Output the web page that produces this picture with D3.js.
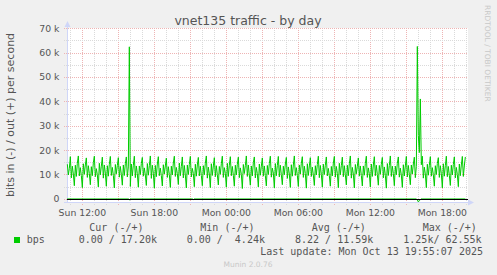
<!DOCTYPE html>
<meta charset="utf-8">
<style>
    body { margin: 0; background: #f0f0f0; }
    svg { display: block; font-family: "DejaVu Sans", sans-serif; }
    .tick { font-size: 9.3px; fill: #555; }
    .mono { font-family: "DejaVu Sans Mono", monospace; font-size: 10px; fill: #555; }
</style>
<body>
<script src="https://d3js.org/d3.v7.min.js"></script>
<script>
    // out (+) traffic in kbit/s, one sample per 5 minutes starting Sun 10:45
    var outK = [
        14.2, 9.8, 12.5, 17.3, 8.6, 13.4, 10.2, 5.4,
        13.8, 9.2, 14.6, 17.6, 9.4, 12.8, 9.6, 4.6,
        14.4, 10.1, 13.9, 16.8, 8.8, 13.6, 10.4, 5.8,
        13.2, 9.5, 14.8, 17.5, 9.1, 12.4, 9.9, 4.9,
        14.6, 9.9, 13.4, 17.1, 8.5, 13.9, 10.6, 5.2,
        13.6, 9.3, 14.2, 17.4, 9.6, 12.9, 9.7, 4.5,
        14.1, 10.3, 13.7, 16.9, 8.9, 13.3, 10.1, 5.6,
        13.9, 9.6, 14.4, 17.2, 9.0, 13.1, 62.4, 5.1,
        14.3, 9.4, 13.8, 17.5, 8.7, 13.5, 10.3, 4.8,
        13.5, 10.0, 14.5, 17.0, 9.3, 12.7, 9.8, 5.5,
        14.5, 9.7, 13.6, 17.6, 8.4, 13.8, 10.5, 4.4,
        13.7, 9.1, 14.3, 17.3, 9.5, 12.6, 9.5, 5.3,
        14.0, 10.2, 13.5, 16.7, 8.8, 13.2, 10.0, 4.7,
        13.4, 9.8, 14.7, 17.5, 9.2, 12.9, 10.3, 5.9,
        14.7, 9.5, 13.3, 17.2, 8.6, 13.7, 9.8, 4.5,
        13.9, 10.0, 14.1, 17.4, 9.0, 12.5, 10.4, 5.0,
        14.2, 9.3, 13.9, 17.0, 9.4, 13.4, 9.6, 5.4,
        13.6, 9.9, 14.6, 17.6, 8.5, 13.0, 10.2, 4.6,
        14.4, 9.6, 13.5, 16.9, 9.1, 13.6, 9.9, 5.7,
        13.3, 10.1, 14.4, 17.5, 8.8, 12.8, 10.5, 4.8,
        14.6, 9.2, 13.8, 17.3, 9.5, 13.3, 9.7, 5.2,
        13.8, 9.8, 14.2, 17.1, 8.7, 12.7, 10.1, 4.24,
        14.1, 10.4, 13.6, 17.6, 9.2, 13.9, 9.8, 5.6,
        13.5, 9.4, 14.8, 17.2, 8.6, 12.9, 10.3, 4.9,
        14.3, 9.7, 13.4, 16.8, 9.3, 13.5, 9.6, 5.3,
        13.7, 10.0, 14.5, 17.5, 8.9, 12.6, 10.6, 4.5,
        14.5, 9.5, 13.7, 17.4, 9.0, 13.8, 9.9, 5.8,
        13.4, 9.9, 14.3, 17.0, 8.4, 13.1, 10.2, 4.7,
        14.0, 9.3, 13.9, 17.6, 9.6, 12.8, 9.7, 5.1,
        13.9, 10.2, 14.6, 17.3, 8.8, 13.4, 10.4, 4.4,
        14.4, 9.6, 13.5, 16.9, 9.2, 13.0, 9.8, 5.5,
        13.6, 9.8, 14.1, 17.5, 8.7, 13.7, 10.1, 4.8,
        14.2, 10.0, 13.8, 17.2, 9.4, 12.5, 9.5, 5.2,
        13.3, 9.4, 14.7, 17.4, 8.9, 13.3, 10.5, 4.6,
        14.6, 9.9, 13.6, 17.1, 9.1, 13.6, 9.9, 5.7,
        13.8, 9.5, 14.4, 17.6, 8.5, 12.9, 10.2, 4.5,
        14.1, 10.3, 13.4, 16.8, 9.3, 13.5, 9.6, 5.3,
        13.5, 9.7, 14.5, 17.5, 8.8, 12.7, 10.3, 4.9,
        14.3, 9.2, 13.9, 17.3, 9.5, 13.8, 10.0, 5.6,
        13.7, 10.1, 14.2, 17.0, 8.6, 13.1, 9.7, 4.4,
        14.5, 9.6, 13.7, 17.6, 9.2, 13.4, 10.4, 5.4,
        13.4, 9.9, 14.6, 17.2, 8.9, 12.6, 9.8, 4.7,
        14.0, 9.4, 13.5, 17.4, 9.0, 13.7, 10.1, 5.8,
        13.9, 10.2, 14.3, 17.1, 8.7, 13.2, 62.55, 26.0,
        19.0, 41.0, 14.0, 17.5, 8.5, 13.0, 10.2, 4.6,
        14.2, 9.7, 13.8, 17.3, 9.3, 12.8, 9.9, 5.2,
        13.6, 10.0, 14.5, 16.9, 8.8, 13.6, 10.3, 4.5,
        14.4, 9.3, 13.6, 17.5, 9.1, 13.3, 9.7, 5.5,
        13.8, 9.8, 14.1, 17.2, 8.6, 12.9, 10.0, 5.0,
        14.3, 9.5, 13.9, 17.4, 9.2, 13.5, 17.2
    ];
    // in (-) traffic is zero except these samples [index, kbit/s]
    var inBumps = [[62, 0.4], [126, 0.3], [350, 0.5], [351, 1.25], [352, 0.8], [353, 0.3]];

    var yTicks = [0, 10000, 20000, 30000, 40000, 50000, 60000, 70000];
    var yMinor = [5000, 15000, 25000, 35000, 45000, 55000, 65000];
    var legendHeads = ["Cur (-/+)", "Min (-/+)", "Avg (-/+)", "Max (-/+)"];
    var legendVals = ["0.00 / 17.20k", "0.00 /  4.24k", "8.22 / 11.59k", "1.25k/ 62.55k"];
    var lastUpdate = "Last update: Mon Oct 13 19:55:07 2025";

    var width = 497, height = 275;
    var t0 = new Date(2025, 9, 12, 10, 45);
    var step = 5 * 60 * 1000;

    var outData = outK.map(function(v, i) { return { t: new Date(+t0 + i * step), v: v * 1000 }; });
    var inData = outK.map(function(v, i) { return { t: new Date(+t0 + i * step), v: 0 }; });
    inBumps.forEach(function(b) { inData[b[0]].v = -b[1] * 1000; });

    var x = d3.scaleTime()
        .domain([new Date(2025, 9, 12, 10, 43, 20), new Date(2025, 9, 13, 20, 3, 20)])
        .range([67, 467]);
    var y = d3.scaleLinear().domain([-1500, 70000]).range([202.5, 28.3]);

    var svg = d3.select("body").append("svg")
        .attr("width", width)
        .attr("height", height);

    svg.append("rect").attr("width", width).attr("height", height).attr("fill", "#f0f0f0");
    svg.append("rect").attr("x", 67).attr("y", 28).attr("width", 401).attr("height", 175).attr("fill", "#fff");

    var px = function(v) { return Math.round(v) + 0.5; };
    var majorColor = "#eeb4b4", minorColor = "#dadada";

    // vertical grid
    var hours = x.ticks(d3.timeHour.every(1));
    svg.append("g").selectAll("line").data(hours).enter().append("line")
        .attr("x1", function(d) { return px(x(d)); })
        .attr("x2", function(d) { return px(x(d)); })
        .attr("y1", 28).attr("y2", 206)
        .attr("stroke", function(d) { return d.getHours() % 3 == 0 ? majorColor : minorColor; })
        .attr("stroke-dasharray", "1,1")
        .attr("shape-rendering", "crispEdges");

    // horizontal grid
    svg.append("g").selectAll("line").data(yMinor).enter().append("line")
        .attr("x1", 64).attr("x2", 468)
        .attr("y1", function(d) { return px(y(d)); })
        .attr("y2", function(d) { return px(y(d)); })
        .attr("stroke", minorColor)
        .attr("stroke-dasharray", "1,1")
        .attr("shape-rendering", "crispEdges");
    svg.append("g").selectAll("line").data(yTicks).enter().append("line")
        .attr("x1", 64).attr("x2", 468)
        .attr("y1", function(d) { return px(y(d)); })
        .attr("y2", function(d) { return px(y(d)); })
        .attr("stroke", majorColor)
        .attr("stroke-dasharray", "1,1")
        .attr("shape-rendering", "crispEdges");

    // axes
    var axisColor = "#cfd6f8";
    svg.append("line").attr("x1", 67.5).attr("x2", 67.5).attr("y1", 24).attr("y2", 203)
        .attr("stroke", axisColor);
    svg.append("line").attr("x1", 64).attr("x2", 469).attr("y1", 202.5).attr("y2", 202.5)
        .attr("stroke", axisColor);
    svg.append("path").attr("d", "M64.5,27L67.5,21L70.5,27Z").attr("fill", axisColor);
    svg.append("path").attr("d", "M468,199.5L474,202.5L468,205.5Z").attr("fill", axisColor);

    var line = d3.line()
        .x(function(d) { return x(d.t); })
        .y(function(d) { return y(d.v); });

    svg.append("path").datum(inData)
        .attr("d", line)
        .attr("fill", "none")
        .attr("stroke", "#00cc00")
        .attr("stroke-width", 1);

    svg.append("line").attr("x1", 67).attr("x2", 468)
        .attr("y1", px(y(0))).attr("y2", px(y(0)))
        .attr("stroke", "#000")
        .attr("shape-rendering", "crispEdges");

    svg.append("path").datum(outData)
        .attr("d", line)
        .attr("fill", "none")
        .attr("stroke", "#00cc00")
        .attr("stroke-width", 1);

    // y tick labels
    svg.append("g").selectAll("text").data(yTicks).enter().append("text")
        .attr("class", "tick")
        .attr("x", 59.5)
        .attr("y", function(d) { return y(d) + 3.4; })
        .attr("text-anchor", "end")
        .text(function(d) { return d == 0 ? "0" : (d / 1000) + " k"; });

    // x tick labels
    var fmt = d3.timeFormat("%a %H:%M");
    svg.append("g").selectAll("text").data(x.ticks(d3.timeHour.every(6))).enter().append("text")
        .attr("class", "tick")
        .attr("x", function(d) { return x(d); })
        .attr("y", 216)
        .attr("text-anchor", "middle")
        .text(fmt);

    // title and labels
    svg.append("text").attr("x", 248).attr("y", 24.5)
        .attr("text-anchor", "middle")
        .attr("font-size", "12.5px").attr("fill", "#555")
        .text("vnet135 traffic - by day");

    svg.append("text")
        .attr("transform", "translate(13.5,115) rotate(-90)")
        .attr("text-anchor", "middle")
        .attr("font-size", "11px").attr("fill", "#555")
        .text("bits in (-) / out (+) per second");

    svg.append("text")
        .attr("transform", "translate(485,5) rotate(90)")
        .attr("font-size", "7.5px").attr("fill", "#c8c8c8")
        .text("RRDTOOL / TOBI OETIKER");

    // legend
    var headX = [89.3, 200.3, 311.7, 422.7];
    var valX = [78.7, 186.7, 295, 403.3];
    svg.append("g").selectAll("text").data(legendHeads).enter().append("text")
        .attr("class", "mono")
        .attr("x", function(d, i) { return headX[i]; })
        .attr("y", 230.5)
        .text(function(d) { return d; });

    svg.append("rect").attr("x", 14).attr("y", 237).attr("width", 6).attr("height", 6).attr("fill", "#00cc00");
    svg.append("text").attr("class", "mono").attr("x", 26.7).attr("y", 242.5).text("bps");
    svg.append("g").selectAll("text").data(legendVals).enter().append("text")
        .attr("class", "mono")
        .attr("x", function(d, i) { return valX[i]; })
        .attr("y", 242.5)
        .style("white-space", "pre")
        .text(function(d) { return d; });

    svg.append("text").attr("class", "mono")
        .attr("x", 483).attr("y", 255)
        .attr("text-anchor", "end")
        .style("white-space", "pre")
        .text(lastUpdate);

    svg.append("text").attr("x", 248).attr("y", 266.5)
        .attr("text-anchor", "middle")
        .attr("font-size", "7.5px").attr("fill", "#c8c8c8")
        .text("Munin 2.0.76");
</script>
</body>
